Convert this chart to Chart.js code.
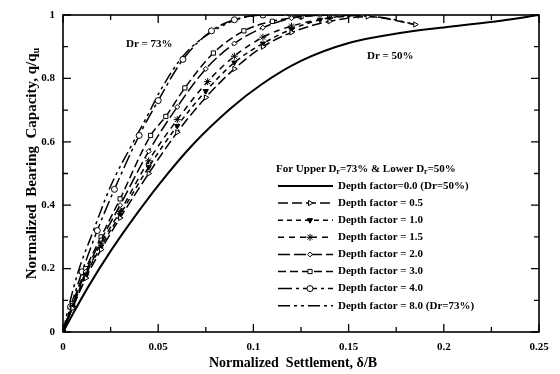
<!DOCTYPE html>
<html>
<head>
<meta charset="utf-8">
<script src="https://cdn.jsdelivr.net/npm/chart.js@4/dist/chart.umd.min.js"></script>
<style>
	html, body { margin: 0; background: #fff; }
</style>
</head>
<body>
<canvas id="chart" width="560" height="374"></canvas>
<script>
// settlement (delta/B) and bearing capacity (q/qu) for each depth factor
const settle_00 = [0, 0.005, 0.013, 0.025, 0.039, 0.051, 0.068, 0.088, 0.104, 0.125, 0.151, 0.177, 0.203, 0.23, 0.25];
const bearing_00 = [0, 0.055, 0.14, 0.255, 0.375, 0.47, 0.59, 0.705, 0.78, 0.855, 0.913, 0.943, 0.963, 0.982, 1.0];

const settle_05 = [0, 0.005, 0.012, 0.02, 0.03, 0.045, 0.06, 0.075, 0.09, 0.105, 0.12, 0.14, 0.16, 0.185];
const bearing_05 = [0, 0.075, 0.17, 0.26, 0.36, 0.5, 0.63, 0.74, 0.83, 0.9, 0.945, 0.98, 0.995, 0.97];

const settle_10 = [0, 0.005, 0.012, 0.02, 0.03, 0.045, 0.06, 0.075, 0.09, 0.105, 0.12, 0.135, 0.15];
const bearing_10 = [0, 0.08, 0.18, 0.27, 0.37, 0.52, 0.65, 0.76, 0.85, 0.91, 0.955, 0.985, 1.0];

const settle_15 = [0, 0.005, 0.012, 0.02, 0.03, 0.045, 0.06, 0.076, 0.09, 0.105, 0.12, 0.14, 0.155];
const bearing_15 = [0, 0.08, 0.18, 0.28, 0.38, 0.54, 0.67, 0.79, 0.87, 0.93, 0.965, 0.99, 1.0];

const settle_20 = [0, 0.005, 0.012, 0.02, 0.03, 0.045, 0.06, 0.075, 0.09, 0.105, 0.12, 0.135];
const bearing_20 = [0, 0.085, 0.19, 0.29, 0.4, 0.57, 0.71, 0.83, 0.91, 0.96, 0.99, 1.0];

const settle_30 = [0, 0.005, 0.012, 0.02, 0.03, 0.046, 0.054, 0.064, 0.079, 0.095, 0.11, 0.125, 0.14];
const bearing_30 = [0, 0.09, 0.2, 0.3, 0.42, 0.62, 0.68, 0.77, 0.88, 0.95, 0.98, 0.995, 1.0];

const settle_40 = [0, 0.004, 0.01, 0.018, 0.027, 0.04, 0.05, 0.063, 0.078, 0.09, 0.105, 0.12];
const bearing_40 = [0, 0.08, 0.19, 0.32, 0.45, 0.62, 0.73, 0.86, 0.95, 0.985, 1.0, 1.0];

const settle_80 = [0, 0.003, 0.008, 0.016, 0.025, 0.037, 0.045, 0.051, 0.063, 0.079, 0.097, 0.11, 0.14, 0.17, 0.185];
const bearing_80 = [0, 0.08, 0.19, 0.32, 0.46, 0.6, 0.69, 0.76, 0.87, 0.95, 0.995, 1.0, 1.0, 0.99, 0.97];

const x_ticks = [0, 0.05, 0.1, 0.15, 0.2, 0.25];
const x_tick_labels = ["0", "0.05", "0.1", "0.15", "0.2", "0.25"];
const y_ticks = [0, 0.2, 0.4, 0.6, 0.8, 1];
const y_tick_labels = ["0", "0.2", "0.4", "0.6", "0.8", "1"];

const legend_labels = [
	"Depth factor=0.0 (Dr=50%)",
	"Depth factor = 0.5",
	"Depth factor = 1.0",
	"Depth factor = 1.5",
	"Depth factor = 2.0",
	"Depth factor = 3.0",
	"Depth factor = 4.0",
	"Depth factor = 8.0 (Dr=73%)",
];

const serif = "'Liberation Serif', 'DejaVu Serif', serif";

function to_points(xs, ys) {
	let pts = [];
	for (let i = 0; i < xs.length; i++) {
		pts.push({ x: xs[i], y: ys[i] });
	}
	return pts;
}

function make_set(label, xs, ys, dash, width, style, rotation, fill, radius) {
	return {
		label: label,
		data: to_points(xs, ys),
		borderColor: "#000",
		borderWidth: width,
		borderDash: dash,
		backgroundColor: fill,
		pointStyle: style,
		rotation: rotation,
		pointRadius: radius,
		pointBorderWidth: 1,
		pointBorderColor: "#000",
		pointBackgroundColor: fill,
		cubicInterpolationMode: "monotone",
		fill: false,
	};
}

let datasets = [
	make_set(legend_labels[0], settle_00, bearing_00, [], 2, "circle", 0, "#000", 0),
	make_set(legend_labels[1], settle_05, bearing_05, [10, 4], 1.5, "triangle", 90, "#fff", 3),
	make_set(legend_labels[2], settle_10, bearing_10, [5, 4], 1.5, "triangle", 180, "#000", 3),
	make_set(legend_labels[3], settle_15, bearing_15, [6, 5], 1.5, "star", 0, "#fff", 3.5),
	make_set(legend_labels[4], settle_20, bearing_20, [12, 4], 1.5, "rectRot", 0, "#fff", 2.5),
	make_set(legend_labels[5], settle_30, bearing_30, [8, 4], 1.5, "rect", 0, "#fff", 3),
	make_set(legend_labels[6], settle_40, bearing_40, [14, 4, 3, 4], 1.5, "circle", 0, "#fff", 3),
	make_set(legend_labels[7], settle_80, bearing_80, [12, 4, 3, 4, 3, 4], 1.5, "circle", 0, "#000", 0),
];

// draws text with an optional lowered (subscript) part
function draw_parts(ctx, parts, x, y, size) {
	let cx = x;
	for (const p of parts) {
		let fs = p.sub ? size * 0.7 : size;
		ctx.font = `bold ${fs}px ${serif}`;
		ctx.fillText(p.t, cx, y + (p.sub ? size * 0.3 : 0));
		cx += ctx.measureText(p.t).width;
	}
	return cx - x;
}

function parts_width(ctx, parts, size) {
	let w = 0;
	for (const p of parts) {
		ctx.font = `bold ${p.sub ? size * 0.7 : size}px ${serif}`;
		w += ctx.measureText(p.t).width;
	}
	return w;
}

const frame_plugin = {
	id: "frame",
	afterDatasetsDraw(chart) {
		const ctx = chart.ctx;
		const a = chart.chartArea;
		const sx = chart.scales.x;
		const sy = chart.scales.y;
		ctx.save();

		// box
		ctx.strokeStyle = "#000";
		ctx.lineWidth = 1.6;
		ctx.setLineDash([]);
		ctx.strokeRect(a.left, a.top, a.right - a.left, a.bottom - a.top);

		// inward ticks
		ctx.lineWidth = 1.3;
		ctx.beginPath();
		for (let i = 0; i <= 10; i++) {
			let px = sx.getPixelForValue(i * 0.025);
			let len = i % 2 == 0 ? 8 : 5;
			ctx.moveTo(px, a.bottom);
			ctx.lineTo(px, a.bottom - len);
			ctx.moveTo(px, a.top);
			ctx.lineTo(px, a.top + len);
		}
		for (let i = 0; i <= 10; i++) {
			let py = sy.getPixelForValue(i * 0.1);
			let len = i % 2 == 0 ? 8 : 5;
			ctx.moveTo(a.left, py);
			ctx.lineTo(a.left + len, py);
			ctx.moveTo(a.right, py);
			ctx.lineTo(a.right - len, py);
		}
		ctx.stroke();

		ctx.fillStyle = "#000";
		ctx.textBaseline = "middle";

		// axis titles
		ctx.textAlign = "center";
		ctx.font = `bold 14px ${serif}`;
		ctx.fillText("Normalized  Settlement, \u03b4/B", (a.left + a.right) / 2 - 8, 363);

		let y_title = [
			{ t: "Normalized  Bearing  Capacity, q/q" },
			{ t: "u", sub: true },
		];
		ctx.save();
		ctx.translate(32, (a.top + a.bottom) / 2 - 10);
		ctx.rotate(-Math.PI / 2);
		ctx.textAlign = "left";
		let w = parts_width(ctx, y_title, 15);
		draw_parts(ctx, y_title, -w / 2, 0, 15);
		ctx.restore();

		// curve notes
		ctx.textAlign = "left";
		ctx.font = `bold 11px ${serif}`;
		ctx.fillText("Dr = 73%", 126, 44);
		ctx.fillText("Dr = 50%", 367, 56);

		// legend
		let title = [
			{ t: "For Upper D" },
			{ t: "r", sub: true },
			{ t: "=73% & Lower D" },
			{ t: "r", sub: true },
			{ t: "=50%" },
		];
		draw_parts(ctx, title, 276, 169, 11);

		for (let i = 0; i < chart.data.datasets.length; i++) {
			const ds = chart.data.datasets[i];
			let ry = 186 + i * 17.1;
			ctx.strokeStyle = "#000";
			ctx.lineWidth = ds.borderWidth;
			ctx.setLineDash(ds.borderDash);
			ctx.beginPath();
			ctx.moveTo(278, ry);
			ctx.lineTo(333, ry);
			ctx.stroke();
			ctx.setLineDash([]);
			if (ds.pointRadius > 0) {
				ctx.fillStyle = ds.pointBackgroundColor;
				ctx.lineWidth = 1;
				Chart.helpers.drawPoint(ctx, {
					pointStyle: ds.pointStyle,
					rotation: ds.rotation,
					radius: ds.pointRadius,
					borderWidth: 1,
				}, 310, ry);
			}
			ctx.fillStyle = "#000";
			ctx.font = `bold 11px ${serif}`;
			ctx.fillText(legend_labels[i], 338, ry);
		}

		ctx.restore();
	},
};

const tick_font = { family: serif, weight: "bold", size: 11 };

new Chart(document.getElementById("chart"), {
	type: "line",
	data: { datasets: datasets },
	plugins: [frame_plugin],
	options: {
		responsive: false,
		animation: false,
		layout: { padding: { top: 15, right: 21, left: 0, bottom: 0 } },
		plugins: {
			legend: { display: false },
			tooltip: { enabled: false },
		},
		scales: {
			x: {
				type: "linear",
				min: 0,
				max: 0.25,
				grid: { display: false, drawTicks: false },
				border: { display: false },
				afterBuildTicks: function (scale) {
					scale.ticks = x_ticks.map((v) => ({ value: v }));
				},
				afterFit: function (scale) {
					scale.height = 42;
				},
				ticks: {
					color: "#000",
					font: tick_font,
					padding: 9,
					maxRotation: 0,
					callback: function (v) {
						let i = x_ticks.findIndex((t) => Math.abs(t - v) < 1e-9);
						return i >= 0 ? x_tick_labels[i] : "";
					},
				},
			},
			y: {
				type: "linear",
				min: 0,
				max: 1,
				grid: { display: false, drawTicks: false },
				border: { display: false },
				afterBuildTicks: function (scale) {
					scale.ticks = y_ticks.map((v) => ({ value: v }));
				},
				afterFit: function (scale) {
					scale.width = 63;
				},
				ticks: {
					color: "#000",
					font: tick_font,
					padding: 8,
					callback: function (v) {
						let i = y_ticks.findIndex((t) => Math.abs(t - v) < 1e-9);
						return i >= 0 ? y_tick_labels[i] : "";
					},
				},
			},
		},
	},
});
</script>
</body>
</html>
